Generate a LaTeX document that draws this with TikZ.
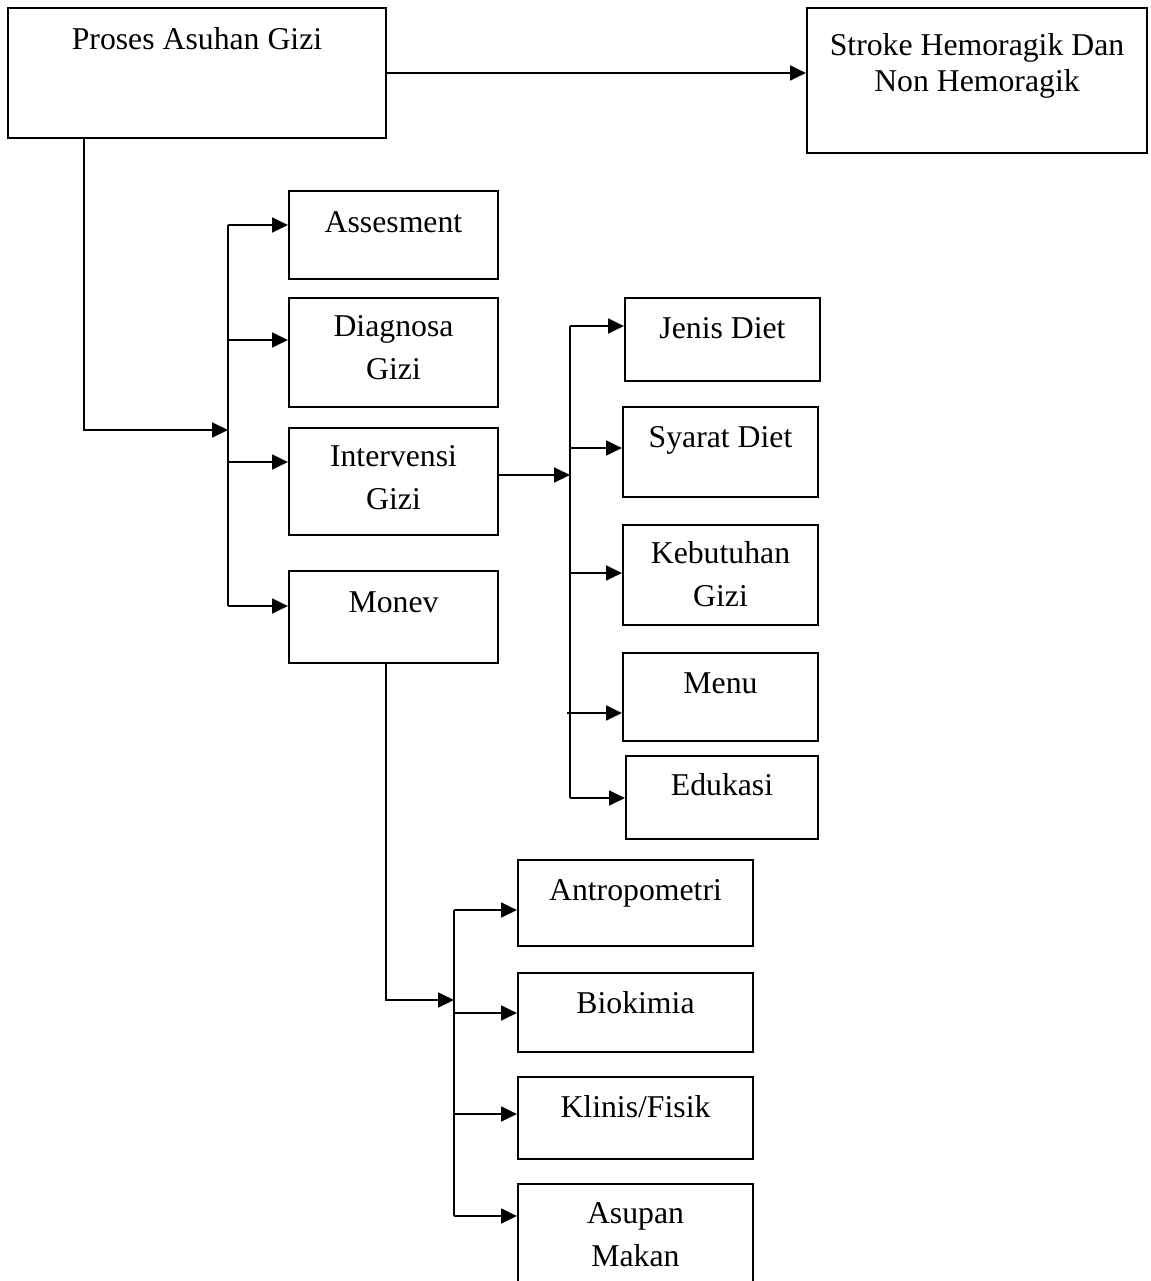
\documentclass[tikz,border=0pt]{standalone}
\usepackage{fontspec}
\setmainfont{Liberation Serif}
\usetikzlibrary{arrows.meta,fit}
\tikzset{
  box/.style={draw, line width=0.8pt, inner sep=0pt},
  lbl/.style={anchor=base, align=center, inner sep=0pt, font=\fontsize{12}{15.9}\selectfont},
  conn/.style={line width=0.85pt},
  arr/.style={line width=0.85pt, -{Triangle[length=6pt,width=5.6pt]}}
}
\begin{document}
\begin{tikzpicture}[x=0.378pt,y=-0.378pt]
\useasboundingbox (0,0) rectangle (1151,1281);
\clip (0,0) rectangle (1151,1281);
% top boxes
\node[box, fit={(8,8)(386,138)}] (proses) {};
\node[lbl] (proses-t) at (197,49) {Proses Asuhan Gizi};
\node[box, fit={(807,8)(1147,153)}] (stroke) {};
\node[lbl, font=\fontsize{12}{13.6}\selectfont] (stroke-t) at (977,91) {Stroke Hemoragik Dan\\Non Hemoragik};
% level 1
\node[box, fit={(289,191)(498,279)}] (assess) {};
\node[lbl] (assess-t) at (393.5,232) {Assesment};
\node[box, fit={(289,298)(498,407)}] (diag) {};
\node[lbl] (diag-t) at (393.5,379) {Diagnosa\\Gizi};
\node[box, fit={(289,428)(498,535)}] (interv) {};
\node[lbl] (interv-t) at (393.5,509) {Intervensi\\Gizi};
\node[box, fit={(289,571)(498,663)}] (monev) {};
\node[lbl] (monev-t) at (393.5,612) {Monev};
% intervensi children
\node[box, fit={(625,298)(820,381)}] (jenis) {};
\node[lbl] (jenis-t) at (722.5,338) {Jenis Diet};
\node[box, fit={(623,407)(818,497)}] (syarat) {};
\node[lbl] (syarat-t) at (720.5,447) {Syarat Diet};
\node[box, fit={(623,525)(818,625)}] (kebut) {};
\node[lbl] (kebut-t) at (720.5,606) {Kebutuhan\\Gizi};
\node[box, fit={(623,653)(818,741)}] (menu) {};
\node[lbl] (menu-t) at (720.5,693) {Menu};
\node[box, fit={(626,756)(818,839)}] (eduk) {};
\node[lbl] (eduk-t) at (722,795) {Edukasi};
% monev children
\node[box, fit={(518,860)(753,946)}] (antro) {};
\node[lbl] (antro-t) at (635.5,900) {Antropometri};
\node[box, fit={(518,973)(753,1052)}] (biok) {};
\node[lbl] (biok-t) at (635.5,1013) {Biokimia};
\node[box, fit={(518,1077)(753,1159)}] (klin) {};
\node[lbl] (klin-t) at (635.5,1117) {Klinis/Fisik};
\node[box, fit={(518,1184)(753,1300)}] (asup) {};
\node[lbl] (asup-t) at (635.5,1266) {Asupan\\Makan};
% helper coordinates
\coordinate (t1) at (84,138);
\coordinate (j1) at (228,430);
\coordinate (t2) at (386,663);
\coordinate (j3) at (454,1000);
\coordinate (j2) at (570,475);
% connectors
\draw[arr] (proses.east) -- (proses.east -| stroke.west);
\draw[arr] (proses.south -| t1) |- (j1);
\draw[conn] (j1 |- 0,225) -- (j1 |- 0,606);
\draw[arr] (j1 |- 0,225) -- (assess.west |- 0,225);
\draw[arr] (j1 |- 0,340) -- (diag.west |- 0,340);
\draw[arr] (j1 |- 0,462) -- (interv.west |- 0,462);
\draw[arr] (j1 |- 0,606) -- (monev.west |- 0,606);
% intervensi branch
\draw[arr] (interv.east |- j2) -- (j2);
\draw[conn] (j2 |- 0,326) -- (j2 |- 0,798);
\draw[arr] (j2 |- 0,326) -- (jenis.west |- 0,326);
\draw[arr] (j2 |- 0,448) -- (syarat.west |- 0,448);
\draw[arr] (j2 |- 0,573) -- (kebut.west |- 0,573);
\draw[arr] ([xshift=-3*0.378pt]j2 |- 0,713) -- (menu.west |- 0,713);
\draw[arr] (j2 |- 0,798) -- (eduk.west |- 0,798);
% monev branch
\draw[arr] (monev.south -| t2) |- (j3);
\draw[conn] (j3 |- 0,910) -- (j3 |- 0,1216);
\draw[arr] (j3 |- 0,910) -- (antro.west |- 0,910);
\draw[arr] (j3 |- 0,1013) -- (biok.west |- 0,1013);
\draw[arr] (j3 |- 0,1114) -- (klin.west |- 0,1114);
\draw[arr] (j3 |- 0,1216) -- (asup.west |- 0,1216);
\end{tikzpicture}
\end{document}
